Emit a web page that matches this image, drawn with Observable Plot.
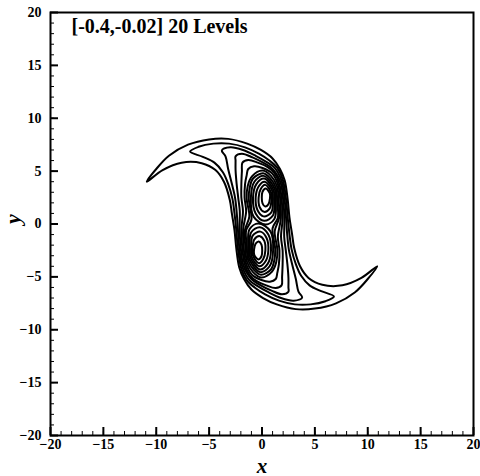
<!DOCTYPE html>
<html><head><meta charset="utf-8">
<script src="https://cdn.jsdelivr.net/npm/d3@7"></script>
<script src="https://cdn.jsdelivr.net/npm/@observablehq/plot@0.6"></script>
<style>body{margin:0;background:#fff}</style>
</head><body><div id="chart"></div>
<script>
const titleText = "[-0.4,-0.02] 20 Levels";
const xLabel = "x";
const yLabel = "y";
const xTicks = [-20, -15, -10, -5, 0, 5, 10, 15, 20];
const yTicks = [-20, -15, -10, -5, 0, 5, 10, 15, 20];
const minorTicks = d3.range(-20, 21, 1);

// Contour lines, [x, y] points, each a closed loop
const S1 = [[-10.9,4.0],[-10.0,5.2],[-8.8,6.45],[-7.0,7.5],[-5.0,8.0],[-3.2,8.05],[-1.4,7.6],[-0.1,7.0],[1.0,6.2],[1.7,5.2],[2.15,4.1],[2.43,2.3],[2.6,0.6],[2.85,-1.0],[3.05,-2.3],[3.6,-4.0],[4.4,-5.1],[5.7,-5.75],[7.6,-5.8],[9.4,-5.1],
  [10.9,-4.0],[10.0,-5.2],[8.8,-6.45],[7.0,-7.5],[5.0,-8.0],[3.2,-8.05],[1.4,-7.6],[0.1,-7.0],[-1.0,-6.2],[-1.7,-5.2],[-2.15,-4.1],[-2.43,-2.3],[-2.6,-0.6],[-2.85,1.0],[-3.05,2.3],[-3.6,4.0],[-4.4,5.1],[-5.7,5.75],[-7.6,5.8],[-9.4,5.1]];
const S2 = [[-6.8,6.85],[-6.0,7.3],[-4.6,7.6],[-3.1,7.6],[-1.6,7.25],[-0.3,6.65],[0.7,6.0],[1.45,5.3],[1.98,4.13],[2.29,2.2],[2.44,0.5],[2.6,-1.0],[2.8,-2.4],[3.2,-3.8],[3.7,-4.9],[4.5,-5.8],[5.6,-6.35],
  [6.8,-6.85],[6.0,-7.3],[4.6,-7.6],[3.1,-7.6],[1.6,-7.25],[0.3,-6.65],[-0.7,-6.0],[-1.45,-5.3],[-1.98,-4.13],[-2.29,-2.2],[-2.44,-0.5],[-2.6,1.0],[-2.8,2.4],[-3.2,3.8],[-3.7,4.9],[-4.5,5.8],[-5.6,6.35]];
const S3 = [[-3.8,6.95],[-3.0,7.25],[-1.8,7.0],[-0.6,6.45],[0.45,5.85],[1.2,5.3],[1.87,4.02],[2.15,2.2],[2.28,0.5],[2.4,-1.2],[2.55,-2.5],[2.85,-3.8],[3.2,-5.2],[3.45,-6.4],
  [3.8,-6.95],[3.0,-7.25],[1.8,-7.0],[0.6,-6.45],[-0.45,-5.85],[-1.2,-5.3],[-1.87,-4.02],[-2.15,-2.2],[-2.28,-0.5],[-2.4,1.2],[-2.55,2.5],[-2.85,3.8],[-3.2,5.2],[-3.45,6.4]];
const S4 = [[-2.5,6.4],[-1.9,6.65],[-0.9,6.3],[0.2,5.75],[1.0,5.2],[1.76,3.91],[2.01,2.2],[2.12,0.5],[2.1,-1.2],[2.25,-2.5],[2.4,-3.8],[2.5,-5.1],[2.5,-6.0],
  [2.5,-6.4],[1.9,-6.65],[0.9,-6.3],[-0.2,-5.75],[-1.0,-5.2],[-1.76,-3.91],[-2.01,-2.2],[-2.12,-0.5],[-2.1,1.2],[-2.25,2.5],[-2.4,3.8],[-2.5,5.1],[-2.5,6.0]];
const S5 = [[-1.85,5.8],[-1.3,6.05],[-0.4,5.8],[0.5,5.4],[1.15,4.85],[1.64,3.79],[1.87,2.2],[1.95,0.5],[1.8,-1.2],[1.95,-2.5],[1.95,-3.8],[1.9,-5.0],
  [1.85,-5.8],[1.3,-6.05],[0.4,-5.8],[-0.5,-5.4],[-1.15,-4.85],[-1.64,-3.79],[-1.87,-2.2],[-1.95,-0.5],[-1.8,1.2],[-1.95,2.5],[-1.95,3.8],[-1.9,5.0]];
const S6 = [[-1.3,5.2],[-0.75,5.45],[0.05,5.3],[0.95,4.8],[1.53,3.68],[1.73,2.2],[1.78,0.5],[1.5,-1.2],[1.65,-2.5],[1.6,-3.8],[1.45,-4.6],
  [1.3,-5.2],[0.75,-5.45],[-0.05,-5.3],[-0.95,-4.8],[-1.53,-3.68],[-1.73,-2.2],[-1.78,-0.5],[-1.5,1.2],[-1.65,2.5],[-1.6,3.8],[-1.45,4.6]];
const P1 = [[-1.45,2.4],[-1.35,3.6],[-0.95,4.5],[0.05,5.05],[0.85,4.55],[1.42,3.57],[1.59,2.0],[1.62,0.6],[1.2,-0.7],
  [1.45,-2.4],[1.35,-3.6],[0.95,-4.5],[-0.05,-5.05],[-0.85,-4.55],[-1.42,-3.57],[-1.59,-2.0],[-1.62,-0.6],[-1.2,0.7]];
const P2 = [[-1.25,2.4],[-1.15,3.5],[-0.85,4.3],[0.1,4.8],[0.75,4.35],[1.3,3.45],[1.45,2.0],[1.5,0.6],[1.0,-0.4],
  [1.25,-2.4],[1.15,-3.5],[0.85,-4.3],[-0.1,-4.8],[-0.75,-4.35],[-1.3,-3.45],[-1.45,-2.0],[-1.5,-0.6],[-1.0,0.4]];
const C1u = [[0.35,3.35],[0.74,2.89],[0.75,2.4],[0.6,1.85],[0.3,1.65],[0.05,1.95],[-0.02,2.5],[0.05,3.05]];
const C2u = [[0.3,3.7],[0.85,3.0],[0.89,2.3],[0.72,1.45],[0.2,1.15],[-0.22,1.6],[-0.32,2.5],[-0.12,3.3]];
const C3u = [[0.25,4.0],[0.97,3.12],[1.03,2.2],[0.88,1.1],[0.15,0.72],[-0.42,1.3],[-0.6,2.5],[-0.32,3.55]];
const C4u = [[0.2,4.3],[1.08,3.23],[1.17,2.1],[1.03,0.8],[0.2,0.3],[-0.6,1.0],[-0.85,2.5],[-0.52,3.8]];
const C5u = [[0.15,4.55],[1.19,3.34],[1.31,2.0],[1.18,0.5],[0.35,-0.05],[-0.8,0.7],[-1.05,2.5],[-0.72,4.0]];
const C1l = [[-0.35,-3.35],[-0.74,-2.89],[-0.75,-2.4],[-0.6,-1.85],[-0.3,-1.65],[-0.05,-1.95],[0.02,-2.5],[-0.05,-3.05]];
const C2l = [[-0.3,-3.7],[-0.85,-3.0],[-0.89,-2.3],[-0.72,-1.45],[-0.2,-1.15],[0.22,-1.6],[0.32,-2.5],[0.12,-3.3]];
const C3l = [[-0.25,-4.0],[-0.97,-3.12],[-1.03,-2.2],[-0.88,-1.1],[-0.15,-0.72],[0.42,-1.3],[0.6,-2.5],[0.32,-3.55]];
const C4l = [[-0.2,-4.3],[-1.08,-3.23],[-1.17,-2.1],[-1.03,-0.8],[-0.2,-0.3],[0.6,-1.0],[0.85,-2.5],[0.52,-3.8]];
const C5l = [[-0.15,-4.55],[-1.19,-3.34],[-1.31,-2.0],[-1.18,-0.5],[-0.35,0.05],[0.8,-0.7],[1.05,-2.5],[0.72,-4.0]];

const contours = [S1, S2, S3, S4, S5, S6, P1, P2, C1u, C2u, C3u, C4u, C5u, C1l, C2l, C3l, C4l, C5l];
const rows = contours.flatMap((pts, id) => pts.map(([x, y]) => ({x, y, id})));

const serif = "'Liberation Serif', 'Times New Roman', serif";
const chart = Plot.plot({
  width: 480, height: 476,
  marginLeft: 50, marginRight: 7, marginTop: 12, marginBottom: 41,
  x: {domain: [-20, 20]},
  y: {domain: [-20, 20]},
  style: {fontFamily: serif, fontSize: "14px", fontWeight: "bold", color: "#000", background: "#fff", overflow: "visible"},
  marks: [
    Plot.line(rows, {x: "x", y: "y", z: "id", curve: "catmull-rom-closed", stroke: "#000", strokeWidth: 2}),
    Plot.axisX(minorTicks, {tickSize: -4, fill: "none", label: null, strokeWidth: 1}),
    Plot.axisX(xTicks, {tickSize: -8, fill: "none", label: null, strokeWidth: 2}),
    Plot.axisX(xTicks, {tickSize: 0, tickPadding: 4, label: null, fontWeight: "bold"}),
    Plot.axisY(minorTicks, {tickSize: -4, fill: "none", label: null, strokeWidth: 1}),
    Plot.axisY(yTicks, {tickSize: -8, fill: "none", label: null, strokeWidth: 2}),
    Plot.axisY(yTicks, {tickSize: 0, tickPadding: 9, label: null, fontWeight: "bold"}),
    Plot.frame({stroke: "#000", strokeWidth: 2}),
    Plot.text([titleText], {text: d => d, frameAnchor: "top-left", dx: 21, dy: 6, textAnchor: "start", lineAnchor: "top", fontSize: 20, fontWeight: "bold", fontFamily: serif}),
    Plot.text([xLabel], {text: d => d, frameAnchor: "bottom", dy: 37, fontSize: 21, fontWeight: "bold", fontStyle: "italic", fontFamily: serif}),
    Plot.text([yLabel], {text: d => d, frameAnchor: "left", dx: -38, rotate: -90, fontSize: 22, fontWeight: "bold", fontStyle: "italic", fontFamily: serif})
  ]
});
document.getElementById("chart").appendChild(chart);
</script>
</body></html>
